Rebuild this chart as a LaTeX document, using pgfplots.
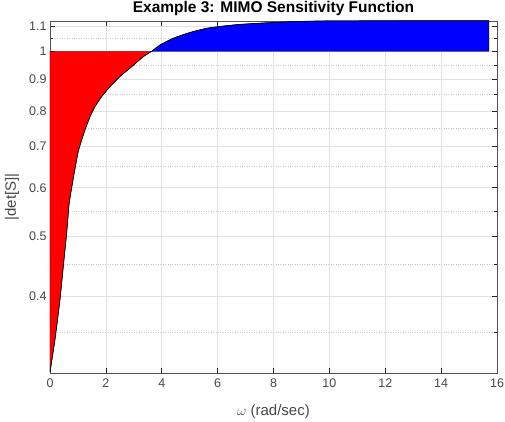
\documentclass[border=0pt]{standalone}
\usepackage{pgfplots}
\pgfplotsset{compat=1.18}
\usepackage{fontspec}
\setmainfont{Liberation Sans}
\definecolor{axgray}{RGB}{38,38,38}
\definecolor{gridgray}{RGB}{225,225,225}
\pgfplotstableread{
x y
0 0.301
0.179 0.340
0.358 0.395
0.483 0.450
0.598 0.507
0.680 0.563
0.752 0.591
0.834 0.622
0.920 0.654
1.013 0.688
1.135 0.718
1.253 0.745
1.432 0.783
1.611 0.813
1.850 0.844
2.147 0.876
2.505 0.910
2.924 0.944
3.339 0.980
3.64 1.0
}\redcurve
\pgfplotstableread{
x y
3.64 1.0
3.94 1.024
4.41 1.050
5.01 1.073
5.61 1.090
6.20 1.099
6.80 1.106
7.99 1.114
9.19 1.119
10.0 1.1205
12.0 1.121
14.0 1.1212
15.71 1.1212
}\bluecurve
\begin{document}
\begin{tikzpicture}
\useasboundingbox (-50pt,-49pt) rectangle (455pt,373pt);
\begin{axis}[
  at={(0pt,0pt)}, anchor=south west,
  scale only axis,
  width=447pt, height=352pt,
  ymode=log,
  xmin=0, xmax=16, ymin=0.3, ymax=1.12,
  xtick={0,2,...,16},
  xticklabels={0,2,4,6,8,10,12,14,16},
  ytick={0.4,0.5,0.6,0.7,0.8,0.9,1,1.1},
  yticklabels={0.4,0.5,0.6,0.7,0.8,0.9,1,1.1},
  minor ytick={0.35,0.45,0.55,0.65,0.75,0.85,0.95,1.05},
  grid=both,
  major grid style={gridgray, line width=0.6pt},
  minor grid style={gray!45, dotted, line width=0.6pt},
  axis line style={axgray!80, line width=0.8pt},
  tick style={axgray, line width=0.6pt},
  major tick length=5pt, minor tick length=3pt,
  tick align=inside,
  ticklabel style={font=\fontsize{12.5}{14}\selectfont, text=axgray!85},
  xticklabel style={yshift=-2pt},
  every axis title shift=0pt,
  title={\textbf{Example 3: MIMO Sensitivity Function}},
  title style={font=\fontsize{15.5}{17}\selectfont, at={(axis description cs:0.5,1)}, anchor=base, yshift=8pt},
  xlabel={$\omega$ (rad/sec)},
  ylabel={|det[S]|},
  label style={font=\fontsize{15}{17}\selectfont, text=axgray!85},
  xlabel style={at={(axis description cs:0.5,0)}, anchor=base, yshift=-42pt},
  ylabel style={at={(axis description cs:-0.085,0.5)}, anchor=center},
]
\addplot[fill=red, draw=black, line width=0.4pt] table {\redcurve} -- (axis cs:0,1) -- cycle;
\addplot[fill=blue, draw=black, line width=0.4pt] table {\bluecurve} -- (axis cs:15.71,1) -- cycle;
\addplot[black, line width=0.6pt, smooth] table {\redcurve};
\addplot[black, line width=0.6pt, smooth] table {\bluecurve};
\end{axis}
\end{tikzpicture}
\end{document}
